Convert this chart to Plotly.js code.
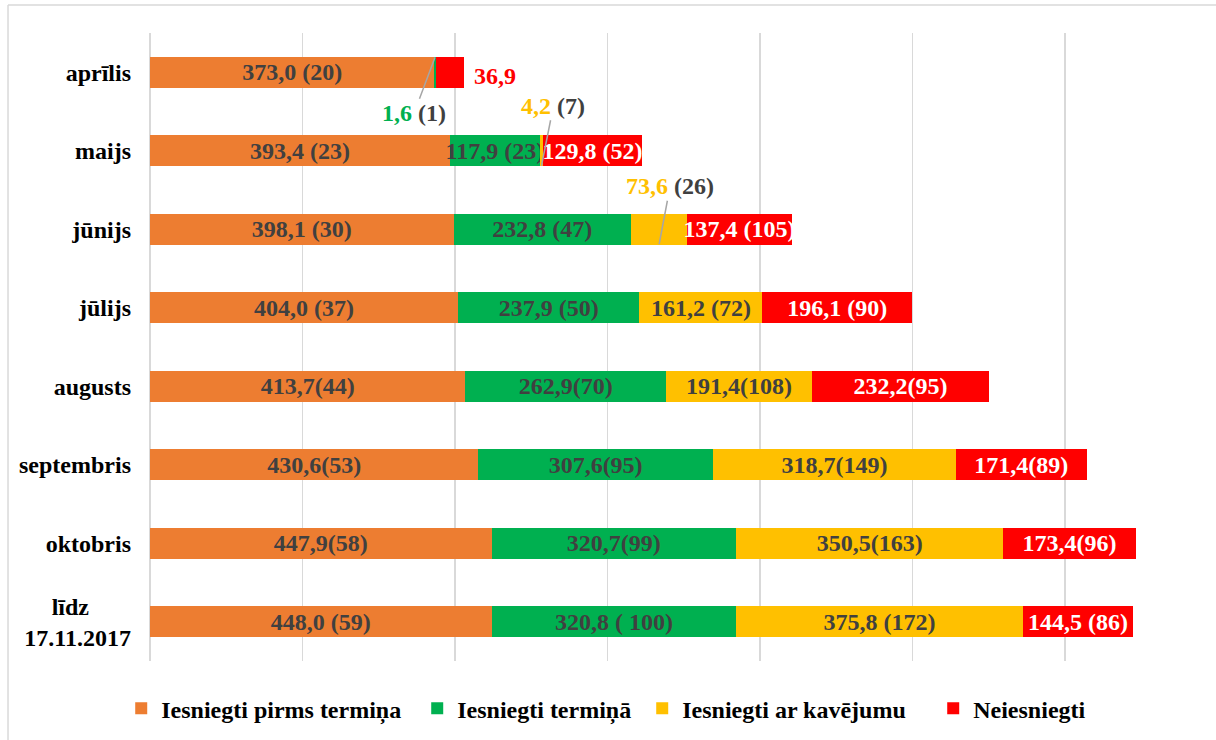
<!DOCTYPE html>
<html>
<head>
<meta charset="utf-8">
<script src="https://cdn.plot.ly/plotly-3.0.1.min.js"></script>
<style>html,body{margin:0;padding:0;background:#fff;}#chart{width:1216px;height:740px;}</style>
</head>
<body>
<div id="chart"></div>
<script>
// ---- data ----
const categories = ['aprīlis', 'maijs', 'jūnijs', 'jūlijs', 'augusts', 'septembris', 'oktobris', 'līdz<br>17.11.2017'];
const tickLabels = ['aprīlis', 'maijs', 'jūnijs', 'jūlijs', 'augusts', 'septembris', 'oktobris', 'līdz\u00a0\u00a0\u00a0\u00a0\u00a0\u00a0\u00a0<br>17.11.2017'];

const seriesNames = ['Iesniegti pirms termiņa', 'Iesniegti termiņā', 'Iesniegti ar kavējumu', 'Neiesniegti'];
const seriesColors = ['#ED7D31', '#00B050', '#FFC000', '#FF0000'];

const pirmsTermina = [373.0, 393.4, 398.1, 404.0, 413.7, 430.6, 447.9, 448.0];
const termina      = [1.6, 117.9, 232.8, 237.9, 262.9, 307.6, 320.7, 320.8];
const arKavejumu   = [0, 4.2, 73.6, 161.2, 191.4, 318.7, 350.5, 375.8];
const neiesniegti  = [36.9, 129.8, 137.4, 196.1, 232.2, 171.4, 173.4, 144.5];

const pirmsLabels = ['373,0 (20)', '393,4 (23)', '398,1 (30)', '404,0 (37)', '413,7(44)', '430,6(53)', '447,9(58)', '448,0 (59)'];
const terminaLabels = ['', '117,9 (23)', '232,8 (47)', '237,9 (50)', '262,9(70)', '307,6(95)', '320,7(99)', '320,8 ( 100)'];
const kavejumuLabels = ['', '', '', '161,2 (72)', '191,4(108)', '318,7(149)', '350,5(163)', '375,8 (172)'];
const neLabels = ['', '129,8 (52)', '137,4 (105)', '196,1 (90)', '232,2(95)', '171,4(89)', '173,4(96)', '144,5 (86)'];

// small segments labelled outside with a leader line
const calloutCat = [0, 1, 2];
const calloutSeries = [1, 2, 2];
const calloutValue = ['1,6', '4,2', '73,6'];
const calloutCount = ['(1)', '(7)', '(26)'];
// ---------------------------------------

const FONT = 'Liberation Serif, Times New Roman, serif';
const allValues = [pirmsTermina, termina, arKavejumu, neiesniegti];
const allLabels = [pirmsLabels, terminaLabels, kavejumuLabels, neLabels];
const legendWidths = [251, 180, 246, 115];

const traces = allValues.map((vals, i) => ({
  type: 'bar',
  orientation: 'h',
  name: seriesNames[i],
  legendwidth: legendWidths[i],
  y: categories,
  x: vals,
  text: allLabels[i],
  textposition: 'inside',
  insidetextanchor: 'middle',
  textangle: 0,
  constraintext: 'none',
  insidetextfont: {family: FONT, size: 24, weight: 'bold', color: i === 3 ? '#FFFFFF' : '#404040'},
  textfont: {family: FONT, size: 24, weight: 'bold', color: i === 3 ? '#FFFFFF' : '#404040'},
  marker: {color: seriesColors[i], line: {width: 0}},
  hoverinfo: 'skip'
}));

const annotations = [];
const offsets = [
  {ax: -21, ay: 56, yshift: 15},
  {ax: 12, ay: -60, yshift: -15},
  {ax: 11, ay: -58, yshift: -15}
];
calloutCat.forEach((c, k) => {
  const s = calloutSeries[k];
  let start = 0;
  for (let j = 0; j < s; j++) start += allValues[j][c];
  const mid = start + allValues[s][c] / 2;
  annotations.push({
    x: mid, y: categories[c], xref: 'x', yref: 'y',
    yshift: offsets[k].yshift,
    showarrow: true, arrowhead: 0, arrowwidth: 1.5, arrowcolor: '#A6A6A6',
    ax: offsets[k].ax, ay: offsets[k].ay, axref: 'pixel', ayref: 'pixel',
    text: '<span style="color:' + seriesColors[s] + '">' + calloutValue[k] + '</span> ' + calloutCount[k],
    font: {family: FONT, size: 24, weight: 'bold', color: '#404040'}
  });
});
{
  const total = pirmsTermina[0] + termina[0] + arKavejumu[0] + neiesniegti[0];
  annotations.push({
    x: total, y: categories[0], xref: 'x', yref: 'y', xanchor: 'left',
    xshift: 8, yshift: -4, showarrow: false,
    text: neiesniegti[0].toFixed(1).replace('.', ','),
    font: {family: FONT, size: 24, weight: 'bold', color: '#FF0000'}
  });
}

const layout = {
  width: 1216, height: 740,
  margin: {l: 150, r: 0, t: 33, b: 79, pad: 0},
  paper_bgcolor: '#FFFFFF', plot_bgcolor: '#FFFFFF',
  barmode: 'stack', bargap: 0.6,
  showlegend: true,
  hovermode: false,
  xaxis: {
    range: [0, 1398], autorange: false, tick0: 0, dtick: 200, showticklabels: false,
    showgrid: true, gridcolor: '#D9D9D9', gridwidth: 1.5,
    zeroline: true, zerolinecolor: '#D9D9D9', zerolinewidth: 1.5,
    showline: false, fixedrange: true
  },
  yaxis: {
    type: 'category', range: [7.5, -0.5], autorange: false,
    tickvals: categories, ticktext: tickLabels,
    tickfont: {family: FONT, size: 24, weight: 'bold', color: '#000000'},
    ticks: '', ticklabelstandoff: 18,
    showgrid: false, zeroline: false, showline: false, fixedrange: true
  },
  legend: {
    orientation: 'h', traceorder: 'normal',
    x: -0.027, xanchor: 'left', y: -0.076, yanchor: 'middle',
    font: {family: FONT, size: 24, weight: 'bold', color: '#000000'}
  },
  annotations: annotations,
  shapes: [
    {type: 'line', xref: 'paper', yref: 'paper', x0: -0.1332, x1: -0.1332, y0: -0.126, y1: 1.0446,
     line: {color: '#D9D9D9', width: 1.5}},
    {type: 'line', xref: 'paper', yref: 'paper', x0: -0.1332, x1: 1.0, y0: 1.0446, y1: 1.0446,
     line: {color: '#D9D9D9', width: 1.5}}
  ]
};

Plotly.newPlot('chart', traces, layout, {staticPlot: true, displayModeBar: false});
</script>
</body>
</html>
